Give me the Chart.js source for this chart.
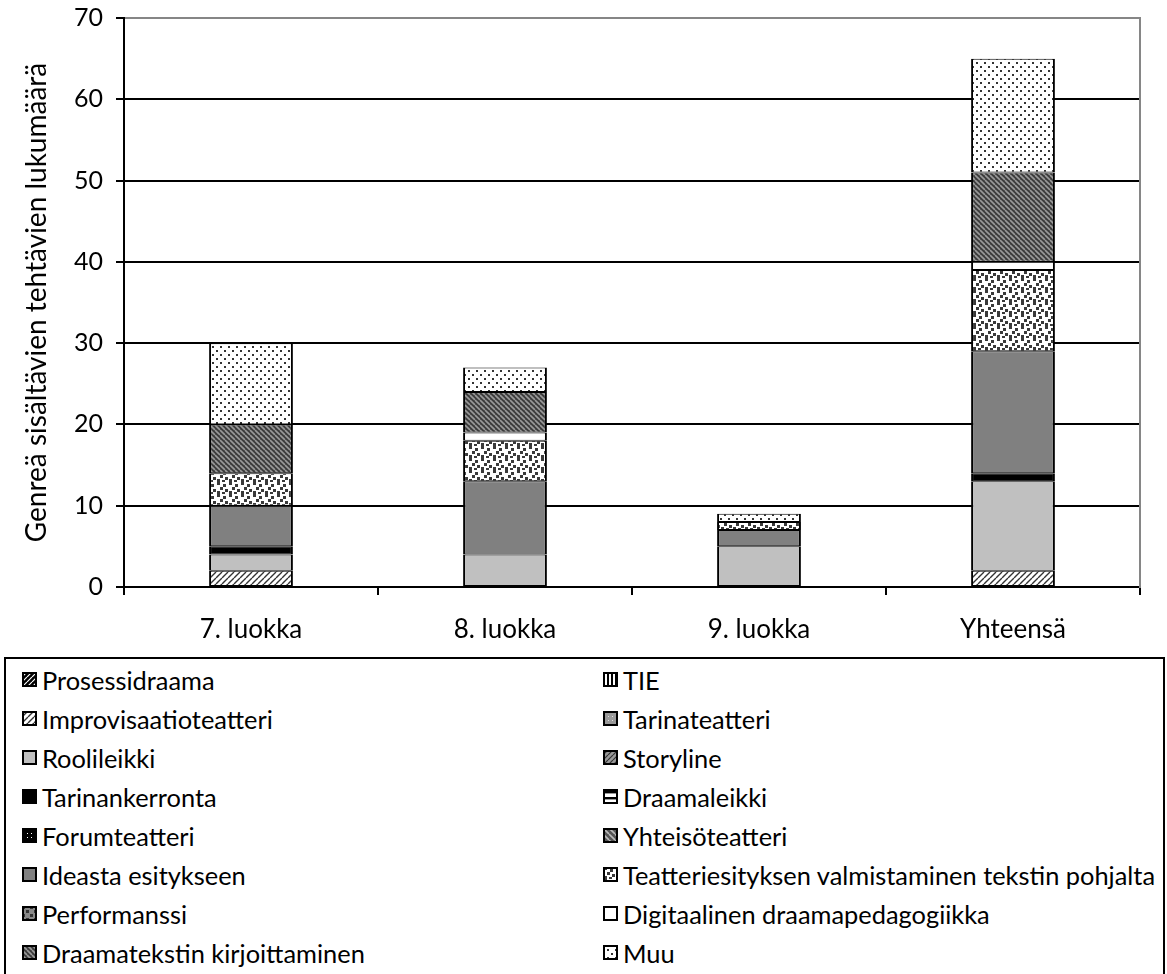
<!DOCTYPE html>
<html>
<head>
<meta charset="utf-8">
<script src="https://cdn.jsdelivr.net/npm/chart.js@4"></script>
<style>
html,body{margin:0;padding:0;background:#fff;}
body{width:1167px;height:974px;overflow:hidden;position:relative;font-family:Lato,sans-serif;}
#wrap{position:absolute;left:0;top:-10px;width:1167px;height:660px;}
#legend{position:absolute;left:4px;top:657px;width:1157px;height:340px;border:2px solid #000;}
.item{position:absolute;display:flex;align-items:center;height:39px;font-size:25.4px;color:#000;white-space:nowrap;font-family:Lato,sans-serif;}
.item canvas{width:15px;height:15px;margin-right:5px;display:block;}
</style>
</head>
<body>
<div id="wrap"><canvas id="c" width="1167" height="660"></canvas></div>
<div id="legend"></div>
<script>
// ---- data ----
const categories = ['7. luokka', '8. luokka', '9. luokka', 'Yhteensä'];
const seriesNames = [
  'Prosessidraama', 'TIE',
  'Improvisaatioteatteri', 'Tarinateatteri',
  'Roolileikki', 'Storyline',
  'Tarinankerronta', 'Draamaleikki',
  'Forumteatteri', 'Yhteisöteatteri',
  'Ideasta esitykseen', 'Teatteriesityksen valmistaminen tekstin pohjalta',
  'Performanssi', 'Digitaalinen draamapedagogiikka',
  'Draamatekstin kirjoittaminen', 'Muu'
];
const prosessidraama = [0, 0, 0, 0];
const tie = [0, 0, 0, 0];
const improvisaatioteatteri = [2, 0, 0, 2];
const tarinateatteri = [0, 0, 0, 0];
const roolileikki = [2, 4, 5, 11];
const storyline = [0, 0, 0, 0];
const tarinankerronta = [1, 0, 0, 1];
const draamaleikki = [0, 0, 0, 0];
const forumteatteri = [0, 0, 0, 0];
const yhteisoteatteri = [0, 0, 0, 0];
const ideastaEsitykseen = [5, 9, 2, 15];
const teatteriesitys = [4, 5, 1, 10];
const performanssi = [0, 0, 0, 0];
const digitaalinen = [0, 1, 0, 1];
const draamateksti = [6, 5, 0, 11];
const muu = [10, 3, 1, 14];
const yMin = 0, yMax = 70, yStep = 10;
const yTitle = 'Genreä sisältävien tehtävien lukumäärä';

const seriesValues = [prosessidraama, tie, improvisaatioteatteri, tarinateatteri, roolileikki, storyline,
  tarinankerronta, draamaleikki, forumteatteri, yhteisoteatteri, ideastaEsitykseen, teatteriesitys,
  performanssi, digitaalinen, draamateksti, muu];

// ---- patterns ----
function tile(w, h, draw) {
  const c = document.createElement('canvas'); c.width = w; c.height = h;
  const g = c.getContext('2d'); draw(g, w, h);
  return g.createPattern(c, 'repeat');
}
function diag(bg, fg, size, lw, up) {
  return tile(size, size, (g, w) => {
    g.fillStyle = bg; g.fillRect(0, 0, w, w);
    g.strokeStyle = fg; g.lineWidth = lw; g.beginPath();
    for (const o of [-w, 0, w]) {
      if (up) { g.moveTo(o, w); g.lineTo(o + w, 0); }
      else { g.moveTo(o, 0); g.lineTo(o + w, w); }
    }
    g.stroke();
  });
}
function squares(bg, fg, w, pts, s) {
  return tile(w, w, (g) => {
    g.fillStyle = bg; g.fillRect(0, 0, w, w);
    g.fillStyle = fg; pts.forEach(p => g.fillRect(p[0], p[1], s, s));
  });
}
const fills = [
  diag('#000', '#fff', 5, 1.2, true),                      // Prosessidraama
  tile(4, 1, (g) => { g.fillStyle = '#fff'; g.fillRect(0, 0, 4, 1); g.fillStyle = '#000'; g.fillRect(0, 0, 2, 1); }), // TIE
  diag('#fff', '#333', 6, 1.4, true),                      // Improvisaatioteatteri
  squares('#999', '#ddd', 4, [[1, 1]], 1),                 // Tarinateatteri
  '#c0c0c0',                                               // Roolileikki
  diag('#999', '#333', 5, 1.2, true),                      // Storyline
  '#000',                                                  // Tarinankerronta
  tile(1, 6, (g) => { g.fillStyle = '#fff'; g.fillRect(0, 0, 1, 6); g.fillStyle = '#000'; g.fillRect(0, 2, 1, 2); g.fillStyle = '#999'; g.fillRect(0, 4, 1, 1); }), // Draamaleikki
  squares('#000', '#fff', 4, [[1, 1]], 1),                 // Forumteatteri
  diag('#555', '#bbb', 6, 1.6, false),                     // Yhteisöteatteri
  '#808080',                                               // Ideasta esitykseen
  squares('#fff', '#3a3a3a', 12, [[1, 0], [7, 2], [4, 5], [9, 7], [1, 9], [6, 10]], 3), // Teatteriesityksen
  squares('#888', '#333', 8, [[0, 0], [4, 4]], 3),         // Performanssi
  '#fff',                                                  // Digitaalinen
  diag('#3c3c3c', '#9a9a9a', 5, 1.6, false),               // Draamatekstin kirjoittaminen
  squares('#fff', '#333', 8, [[0, 0], [4, 4]], 2)          // Muu
];

const tickFontY = { family: 'Lato, sans-serif', size: 25 };
const tickFontX = { family: 'Lato, sans-serif', size: 26 };
const titleFont = { family: 'Lato, sans-serif', size: 28 };

const datasets = seriesNames.map((name, i) => ({
  label: name,
  data: seriesValues[i].map(v => v === 0 ? null : v),
  backgroundColor: fills[i],
  borderColor: '#000',
  borderWidth: { top: 1, bottom: 1, left: 2, right: 2 },
  borderSkipped: false,
  barPercentage: 0.33,
  categoryPercentage: 1
}));

const chart = new Chart(document.getElementById('c').getContext('2d'), {
  type: 'bar',
  data: { labels: categories, datasets },
  options: {
    responsive: false,
    animation: false,
    devicePixelRatio: 1,
    layout: { padding: { top: 17, right: 27, left: 0, bottom: 0 } },
    plugins: { legend: { display: false }, tooltip: { enabled: false } },
    scales: {
      x: {
        stacked: true,
        grid: { display: true, drawOnChartArea: false, drawTicks: true, tickLength: 8, color: '#000', lineWidth: 2, offset: true },
        border: { display: true, color: '#000', width: 2 },
        ticks: { font: tickFontX, color: '#000', padding: 19, maxRotation: 0 },
        afterFit(s) { s.height = 63; }
      },
      y: {
        stacked: true, min: yMin, max: yMax,
        ticks: { stepSize: yStep, font: tickFontY, color: '#000', padding: 13 },
        grid: { color: (c) => (c.tick && c.tick.value === yMax) ? '#868686' : '#000', tickColor: '#000', lineWidth: 2, tickLength: 8, drawTicks: true },
        border: { display: true, color: '#000', width: 2 },
        title: { display: true, text: yTitle, font: titleFont, color: '#000', padding: { top: 20, bottom: 0 } },
        afterFit(s) { s.width = 124; }
      },
      y2: {
        position: 'right', min: yMin, max: yMax, display: true,
        grid: { display: false }, ticks: { display: false },
        border: { display: true, color: '#868686', width: 2 },
        afterFit(s) { s.width = 0; }
      }
    }
  }
});

// ---- legend (HTML, built from chart datasets) ----
const legend = document.getElementById('legend');
chart.data.datasets.forEach((ds, i) => {
  const row = Math.floor(i / 2), col = i % 2;
  const item = document.createElement('div');
  item.className = 'item';
  item.style.left = (col === 0 ? 16 : 597) + 'px';
  item.style.top = (1 + 39 * row) + 'px';
  const sw = document.createElement('canvas');
  sw.width = 15; sw.height = 15;
  const g = sw.getContext('2d');
  g.fillStyle = ds.backgroundColor; g.fillRect(0, 0, 15, 15);
  g.strokeStyle = '#000'; g.lineWidth = 2; g.strokeRect(1, 1, 13, 13);
  const tx = document.createElement('span');
  tx.textContent = ds.label;
  item.appendChild(sw); item.appendChild(tx);
  legend.appendChild(item);
});
</script>
</body>
</html>
